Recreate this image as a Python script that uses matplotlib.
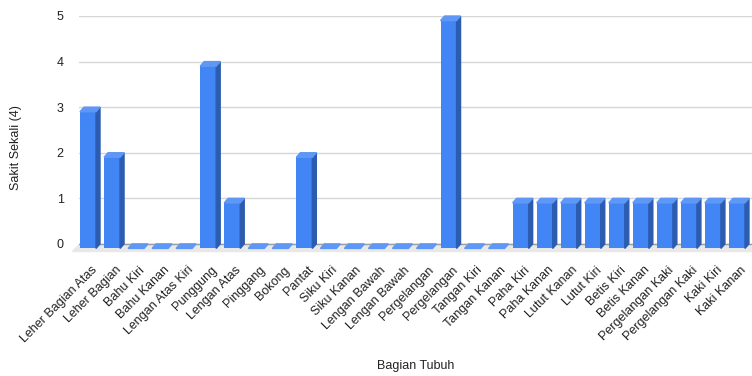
import matplotlib.pyplot as plt
from matplotlib.patches import Polygon
import numpy as np

plt.rcParams['font.family'] = ['Liberation Sans', 'DejaVu Sans']

parts = ['Leher Bagian Atas', 'Leher Bagian', 'Bahu Kiri', 'Bahu Kanan', 'Lengan Atas Kiri',
         'Punggung', 'Lengan Atas', 'Pinggang', 'Bokong', 'Pantat', 'Siku Kiri', 'Siku Kanan',
         'Lengan Bawah', 'Lengan Bawah', 'Pergelangan', 'Pergelangan', 'Tangan Kiri',
         'Tangan Kanan', 'Paha Kiri', 'Paha Kanan', 'Lutut Kanan', 'Lutut Kiri', 'Betis Kiri',
         'Betis Kanan', 'Pergelangan Kaki', 'Pergelangan Kaki', 'Kaki Kiri', 'Kaki Kanan']
counts = [3, 2, 0, 0, 0, 4, 1, 0, 0, 2, 0, 0, 0, 0, 0, 5, 0, 0, 1, 1, 1, 1, 1, 1, 1, 1, 1, 1]

front = '#4285f4'
side = '#2c5cb0'
top = '#5f97f6'

fig = plt.figure(figsize=(7.52, 3.76), dpi=100)
ax = fig.add_axes([79/752, 1 - 253/376, 673/752, 237/376])
ax.set_xlim(-0.5, len(parts) - 0.5)
ax.set_ylim(-0.2, 5)

# depth of the fake 3d
dx = 0.166
dy = 0.1
w = 0.666

ax.set_yticks(range(6))
ax.yaxis.grid(True, color='#d6d6d6', linewidth=1)
ax.set_axisbelow(True)
ax.axhline(0, color='#9e9e9e', linewidth=1, zorder=1)

# floor
floor = Polygon([(-0.5, 0), (len(parts) - 0.5 + 0.3, 0), (len(parts) - 0.5 + 0.3, -0.15),
                 (-0.5 - 0.29, -0.15)], closed=True, color='#e8e8e8', zorder=0.5, clip_on=False)
ax.add_patch(floor)

x = np.arange(len(parts))
for i, v in zip(x, counts):
    l = i - 0.458
    r = l + w
    if v > 0:
        ax.bar(l + w / 2, v, width=w, bottom=-dy, color=front, zorder=3)
        ax.add_patch(Polygon([(r, -dy), (r + dx, 0), (r + dx, v), (r, v - dy)],
                             closed=True, color=side, zorder=3))
    ax.add_patch(Polygon([(l, v - dy), (r, v - dy), (r + dx, v), (l + dx, v)],
                         closed=True, color=top, zorder=3, clip_on=False))

ax.set_xticks(x)
ax.set_xticklabels(parts, rotation=45, ha='right', rotation_mode='anchor', fontsize=9, color='#222222')
ax.tick_params(axis='x', length=0, pad=8)
ax.tick_params(axis='y', length=0, pad=11, labelsize=9, labelcolor='#222222')
for s in ax.spines.values():
    s.set_visible(False)

fig.text(416/752, 1 - 366/376, 'Bagian Tubuh', ha='center', va='center', fontsize=9, color='#222222')
fig.text(16/752, 1 - 148/376, 'Sakit Sekali (4)', ha='center', va='center', rotation=90,
         fontsize=9, color='#222222')

fig.savefig('out.png', dpi=100)
